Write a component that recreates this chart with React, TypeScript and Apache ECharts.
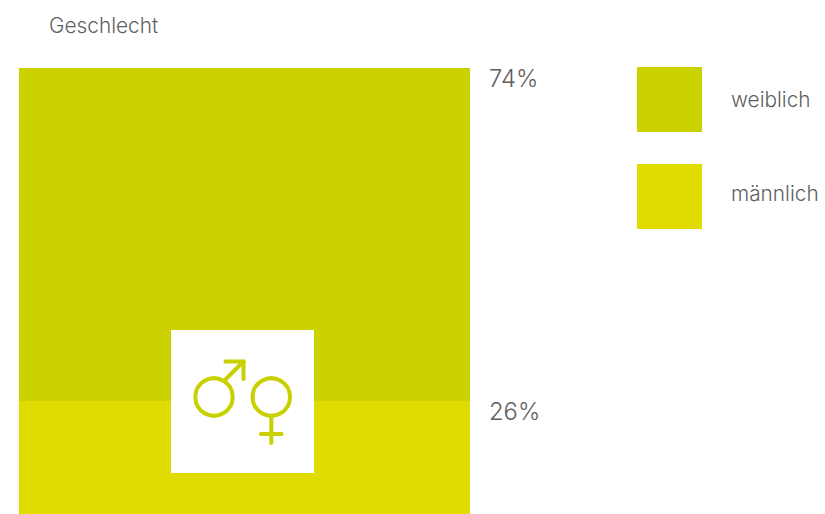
import React, { useEffect, useRef } from "react";
import * as echarts from "echarts";

const categories = ["Geschlecht"];
const maleValues = [26];
const femaleValues = [74];
const seriesNames = ["weiblich", "männlich"];
const FEMALE_COLOR = "#cbd200";
const MALE_COLOR = "#e0dc00";
const TEXT = "#5f5f5f";
const FONT = "Inter, 'Liberation Sans', Arial, sans-serif";

export default function App() {
  const ref = useRef<HTMLDivElement>(null);
  useEffect(() => {
    const chart = echarts.init(ref.current!, undefined, { renderer: "svg" });
    const label = {
      show: true,
      position: ["100%", -1.5] as [string, number],
      distance: 0,
      formatter: "{c}%",
      color: TEXT,
      fontFamily: FONT,
      fontSize: 23.8,
      fontWeight: 300,
      verticalAlign: "top" as const,
      align: "left" as const,
      padding: [0, 0, 0, 19],
    };
    const line = { stroke: "#c9d000", lineWidth: 4, lineCap: "round" as const, fill: "none" };
    const legendFont = { color: TEXT, fontFamily: FONT, fontSize: 20.8, fontWeight: 300 };
    chart.setOption({
      animation: false,
      title: {
        text: "Geschlecht",
        left: 49,
        top: 15,
        padding: 0,
        textStyle: { color: TEXT, fontFamily: FONT, fontSize: 20.8, fontWeight: 300 },
      },
      legend: {
        data: seriesNames,
        formatter: (name: string) => (name === seriesNames[1] ? `{up|${name}}` : `{same|${name}}`),
        orient: "vertical",
        left: 637,
        top: 67,
        itemWidth: 65,
        itemHeight: 65,
        itemGap: 32,
        icon: "rect",
        selectedMode: false,
        padding: 0,
        textStyle: {
          ...legendFont,
          padding: [0, 0, 0, 24],
          rich: {
            same: { ...legendFont },
            up: { ...legendFont, padding: [0, 0, 7, 0] },
          },
        },
      },
      grid: { left: 19, top: 68, width: 451, height: 450 },
      xAxis: { type: "category", data: categories, show: false },
      yAxis: { type: "value", min: 0, max: 100, show: false },
      series: [
        {
          name: "männlich",
          type: "bar",
          stack: "total",
          data: maleValues,
          barWidth: "100%",
          itemStyle: { color: MALE_COLOR },
          label,
        },
        {
          name: "weiblich",
          type: "bar",
          stack: "total",
          data: femaleValues,
          barWidth: "100%",
          itemStyle: { color: FEMALE_COLOR },
          label,
        },
      ],
      graphic: [
        { type: "rect", z: 10, shape: { x: 171, y: 330, width: 143, height: 143 }, style: { fill: "#ffffff" } },
        { type: "circle", z: 11, shape: { cx: 214, cy: 397, r: 18.7 }, style: line },
        { type: "line", z: 11, shape: { x1: 224.5, y1: 380.5, x2: 243.5, y2: 361.5 }, style: line },
        { type: "line", z: 11, shape: { x1: 225.5, y1: 361.5, x2: 243.5, y2: 361.5 }, style: line },
        { type: "line", z: 11, shape: { x1: 243.5, y1: 361.5, x2: 243.5, y2: 379 }, style: line },
        { type: "circle", z: 11, shape: { cx: 271.3, cy: 397, r: 18.7 }, style: line },
        { type: "line", z: 11, shape: { x1: 271.3, y1: 416, x2: 271.3, y2: 443 }, style: line },
        { type: "line", z: 11, shape: { x1: 261, y1: 434, x2: 281.5, y2: 434 }, style: line },
      ],
    });
    return () => chart.dispose();
  }, []);
  return (
    <div style={{ position: "fixed", left: 0, top: 0, width: 825, height: 514, overflow: "hidden", background: "#fff" }}>
      <div ref={ref} style={{ width: 825, height: 530 }} />
    </div>
  );
}
